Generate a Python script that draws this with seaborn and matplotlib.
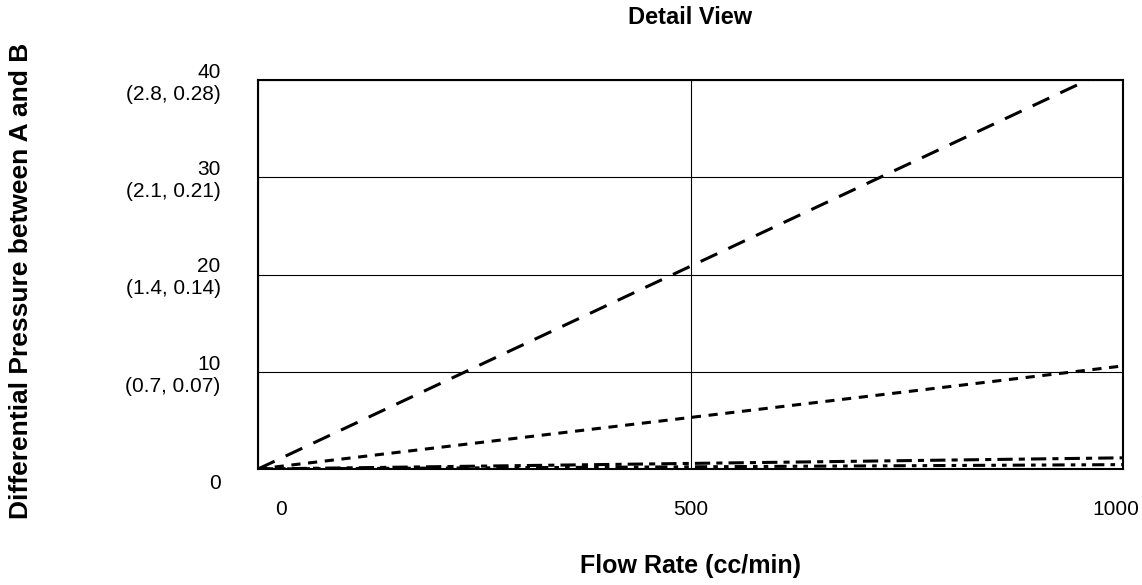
import numpy as np
import pandas as pd
import matplotlib
matplotlib.use('Agg')
import matplotlib.pyplot as plt
import matplotlib.transforms as mtransforms
import seaborn as sns

# data
flow = [0, 1000]
series_names = ['A', 'B', 'C', 'D']
series_values = {
    'A': [0, 41.7],
    'B': [0, 10.6],
    'C': [0, 1.15],
    'D': [0, 0.45],
}
y_ticks = [0, 10, 20, 30, 40]
y_tick_labels = ['\n0', '10\n(0.7, 0.07)', '20\n(1.4, 0.14)', '30\n(2.1, 0.21)', '40\n(2.8, 0.28)']
x_ticks = [0, 500, 1000]
x_tick_labels = ['0', '500', '1000']

rows = []
for name in series_names:
    for x, y in zip(flow, series_values[name]):
        rows.append({'flow': x, 'dp': y, 'series': name})
df = pd.DataFrame(rows)

sns.set_style('white')
plt.rcParams['font.family'] = ['Liberation Sans', 'DejaVu Sans']
plt.rcParams['text.color'] = 'black'

fig = plt.figure(figsize=(11.42, 5.85), dpi=100)
ax = fig.add_axes([258 / 1142, 1 - 469 / 585, (1123 - 258) / 1142, (469 - 80) / 585])

dash_styles = {'A': (6, 4), 'B': (3, 2.5), 'C': (5, 2, 2, 2), 'D': (4, 2, 1.5, 2, 1.5, 2)}
sns.lineplot(data=df, x='flow', y='dp', style='series', dashes=dash_styles,
             color='black', linewidth=2.2, legend=False, ax=ax)

ax.set_xlim(0, 1000)
ax.set_ylim(0, 40)
ax.set_xticks(x_ticks)
ax.set_xticklabels(x_tick_labels)
ax.set_yticks(y_ticks)
ax.set_yticklabels(y_tick_labels)
ax.grid(True, color='black', linewidth=0.8)
ax.tick_params(axis='both', direction='out', length=10, width=0.8, color='black',
               labelsize=15, labelcolor='black')
ax.tick_params(axis='x', pad=12)
ax.tick_params(axis='y', pad=17)
for lab in ax.get_yticklabels():
    lab.set_multialignment('right')

# Excel-style nudges of the end labels
xlabs = ax.get_xticklabels()
xlabs[0].set_transform(xlabs[0].get_transform() + mtransforms.ScaledTranslation(23 / 100, 0, fig.dpi_scale_trans))
xlabs[-1].set_transform(xlabs[-1].get_transform() + mtransforms.ScaledTranslation(-7 / 100, 0, fig.dpi_scale_trans))

for s in ax.spines.values():
    s.set_color('black')
    s.set_linewidth(1.5)
    s.set_visible(True)

ax.set_xlabel('')
ax.set_ylabel('')
fig.text(690 / 1142, 1 - 18 / 585, 'Detail View', ha='center', va='center',
         fontsize=17, fontweight='bold')
fig.text(690 / 1142, 1 - 566 / 585, 'Flow Rate (cc/min)', ha='center', va='center',
         fontsize=18, fontweight='bold')
fig.text(21 / 1142, 1 - 281 / 585, 'Differential Pressure between A and B', ha='center',
         va='center', rotation=90, fontsize=19, fontweight='bold')

fig.savefig('out.png', dpi=100)
